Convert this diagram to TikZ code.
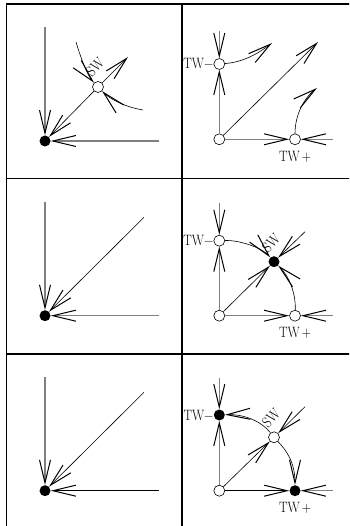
\documentclass[tikz,border=0pt]{standalone}
\usepackage{fontspec}
\usepackage{graphicx}
\usetikzlibrary{arrows.meta,positioning}

\newcommand{\narrowtext}[1]{\scalebox{0.85}[1]{#1}}

\begin{document}
\begin{tikzpicture}[x=1pt, y=-1pt,
    >={Straight Barb[length=23pt,width=11pt,line width=1pt,color=black]},
    frame/.style={line width=1.6pt},
    axis/.style={draw=gray, line width=1.4pt},
    orbit/.style={draw=black, line width=.6pt},
    sink/.style={circle, fill=black, inner sep=0pt, minimum size=11pt},
    hole/.style={circle, draw=black, fill=white, line width=.6pt,
                 inner sep=0pt, minimum size=11pt},
    lbl/.style={inner sep=0pt, font=\fontsize{15}{15}\selectfont}]

    \useasboundingbox (0,0) rectangle (349,526);
    \clip (0,0) rectangle (349,526);

    % frame
    \draw[frame] (6.5,540) -- (6.5,4) -- (360,4);
    \draw[frame] (182,4) -- (182,540);
    \foreach \y in {178.7,354} {\draw[frame] (6.5,\y) -- (360,\y);};

    % left column, top
    \node[sink] (p1) at (45,141) {};
    \node[hole] (s1) at (98,87) {};
    \coordinate (p1n) at (45,27);
    \coordinate (p1e) at (159,141);
    \coordinate (s1ne) at (128,57);
    \coordinate (s1a) at (76,42);
    \coordinate (s1b) at (143,110);
    \path (p1n) edge[axis,->]  (p1)
          (p1e) edge[axis,->]  (p1)
          (s1)  edge[orbit,->] (p1)
          (s1)  edge[orbit,->] (s1ne);
    \draw[orbit,->] (s1a) .. controls (82,62) and (88,76) .. (s1);
    \draw[orbit,->] (s1b) .. controls (125,107) and (110,99) .. (s1);
    \node[lbl, rotate=45] (sw1) at (95,67) {\narrowtext{SW}};

    % left column, middle and bottom
    \foreach \r/\yc/\col in {2/315.7/gray, 3/490.7/black} {
      \node[sink] (p\r) at (45,\yc) {};
      \coordinate (p\r n) at (45,\yc-113.5);
      \coordinate (p\r e) at (159,\yc);
      \coordinate (p\r ne) at (144,\yc-98.4);
      \path (p\r n)  edge[axis,->]            (p\r)
            (p\r e)  edge[axis,draw=\col,->]  (p\r)
            (p\r ne) edge[orbit,->]           (p\r);
    };

    % right column, top
    \node[hole] (o1) at (219.3,139.3) {};
    \node[hole] (m1) at (219.3,64) {};
    \node[hole] (q1) at (295,139.3) {};
    \coordinate (m1n) at (219.3,31);
    \coordinate (q1e) at (333,139.3);
    \coordinate (o1ne) at (318,42);
    \coordinate (m1ne) at (272,43);
    \coordinate (q1ne) at (317,88);
    \path (m1n) edge[axis,->]  (m1)
          (o1)  edge[axis,->]  (m1)
          (o1)  edge[axis,->]  (q1)
          (q1e) edge[axis,->]  (q1)
          (o1)  edge[orbit,->] (o1ne);
    \draw[orbit,->] (m1) .. controls (245,62) and (260,52) .. (m1ne);
    \draw[orbit,->] (q1) .. controls (295,115) and (304,98) .. (q1ne);
    \node[lbl, anchor=east] (tm1) at (m1.west) {\narrowtext{TW\char"2212}};
    \node[lbl, below=6pt of q1] (tp1) {\narrowtext{TW\,+}};

    % right column, middle
    \node[hole] (o2) at (219.3,315.7) {};
    \node[hole] (m2) at (219.3,240.7) {};
    \node[hole] (q2) at (295,315.7) {};
    \node[sink] (n2) at (274,261.7) {};
    \coordinate (m2n) at (219.3,202.7);
    \coordinate (q2e) at (333,315.7);
    \coordinate (n2ne) at (305,231.7);
    \path (m2n)  edge[axis,->]  (m2)
          (o2)   edge[axis,->]  (m2)
          (o2)   edge[axis,->]  (q2)
          (q2e)  edge[axis,->]  (q2)
          (o2)   edge[orbit,->] (n2)
          (n2ne) edge[orbit,->] (n2);
    \draw[orbit,->] (m2) .. controls (240,240) and (262,248) .. (n2);
    \draw[orbit,->] (q2) .. controls (296,292) and (288,275) .. (n2);
    \node[lbl, anchor=east] (tm2) at (m2.west) {\narrowtext{TW\char"2212}};
    \node[lbl, below=6pt of q2] (tp2) {\narrowtext{TW\,+}};
    \node[lbl, rotate=45] (sw2) at (271,243) {\narrowtext{SW}};

    % right column, bottom
    \node[hole] (o3) at (219.3,490.7) {};
    \node[sink] (m3) at (219.3,415) {};
    \node[sink] (q3) at (295,490.7) {};
    \node[hole] (s3) at (274,437.3) {};
    \coordinate (m3n) at (219.3,377.7);
    \coordinate (q3e) at (333,490.7);
    \coordinate (s3ne) at (305,406.7);
    \path (m3n)  edge[axis,->]             (m3)
          (o3)   edge[axis,->]             (m3)
          (o3)   edge[axis,draw=black,->]  (q3)
          (q3e)  edge[axis,->]             (q3)
          (o3)   edge[orbit,->]            (s3)
          (s3ne) edge[orbit,->]            (s3);
    \draw[orbit,->] (s3) .. controls (262,422) and (245,414) .. (m3);
    \draw[orbit,->] (s3) .. controls (286,450) and (295,462) .. (q3);
    \node[lbl, anchor=east] (tm3) at (m3.west) {\narrowtext{TW\char"2212}};
    \node[lbl, below=6pt of q3] (tp3) {\narrowtext{TW\,+}};
    \node[lbl, rotate=45] (sw3) at (271,418) {\narrowtext{SW}};
\end{tikzpicture}
\end{document}
